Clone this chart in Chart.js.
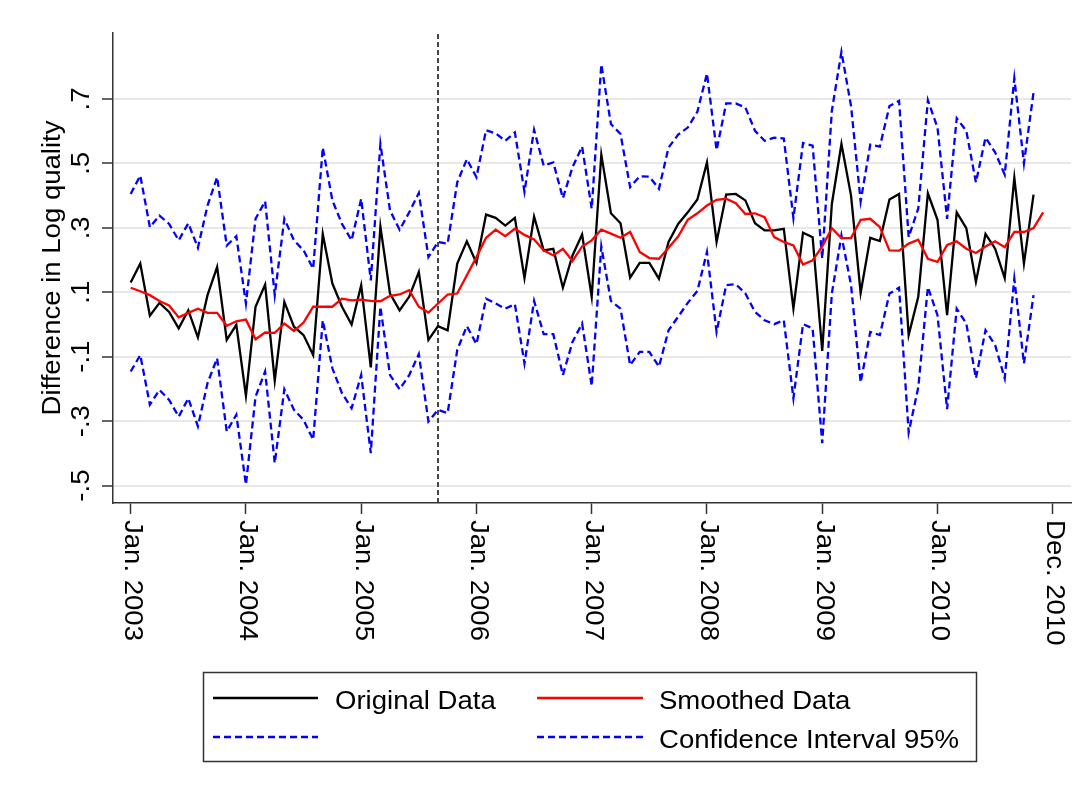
<!DOCTYPE html>
<html>
<head>
<meta charset="utf-8">
<title>Difference in Log quality</title>
<script src="https://cdn.jsdelivr.net/npm/chart.js@4.4.0/dist/chart.umd.min.js"></script>
<style>
body { margin: 0; background: #fff; }
canvas { display: block; }
</style>
</head>
<body>
<canvas id="chart" width="1086" height="794"></canvas>
<script>
const FONT = '"Liberation Sans", Arial, Helvetica, sans-serif';
const FONT_SIZE = 25.5;
const STRETCH = 1.08; // stata text is a bit wider than arial

// x is the month number counted from Jan. 2003
const tickMonths = [0, 12, 24, 36, 48, 60, 72, 84, 96];
const tickLabels = ["Jan. 2003", "Jan. 2004", "Jan. 2005", "Jan. 2006", "Jan. 2007",
                    "Jan. 2008", "Jan. 2009", "Jan. 2010", "Dec. 2010"];
const yTicks = [-0.5, -0.3, -0.1, 0.1, 0.3, 0.5, 0.7];
const yTickLabels = ["-.5", "-.3", "-.1", ".1", ".3", ".5", ".7"];
const yTitle = "Difference in Log quality";
const breakMonth = 32; // Sep. 2005

const originalData = [
    0.130, 0.189, 0.027, 0.067, 0.039, -0.012, 0.044, -0.040, 0.091, 0.178, -0.048, -0.001,
    -0.221, 0.055, 0.124, -0.174, 0.070, -0.007, -0.033, -0.095, 0.281, 0.127, 0.055, 0.000,
    0.122, -0.133, 0.304, 0.096, 0.044, 0.086, 0.163, -0.048, -0.005, -0.018, 0.189, 0.258,
    0.191, 0.341, 0.331, 0.307, 0.331, 0.144, 0.335, 0.230, 0.235, 0.114, 0.214, 0.279,
    0.086, 0.527, 0.345, 0.314, 0.145, 0.191, 0.191, 0.142, 0.256, 0.312, 0.348, 0.388,
    0.503, 0.256, 0.403, 0.405, 0.385, 0.314, 0.292, 0.292, 0.297, 0.049, 0.285, 0.271,
    -0.082, 0.374, 0.560, 0.400, 0.098, 0.269, 0.259, 0.388, 0.405, -0.033, 0.086, 0.407,
    0.325, 0.029, 0.348, 0.299, 0.132, 0.281, 0.235, 0.144, 0.455, 0.189, 0.403
];

const smoothedData = [
    0.114, 0.103, 0.091, 0.073, 0.059, 0.022, 0.036, 0.049, 0.036, 0.036, -0.004, 0.010,
    0.015, -0.046, -0.025, -0.026, 0.003, -0.020, 0.006, 0.055, 0.055, 0.055, 0.080, 0.075,
    0.077, 0.073, 0.072, 0.089, 0.093, 0.106, 0.055, 0.037, 0.065, 0.093, 0.096, 0.153,
    0.209, 0.269, 0.294, 0.274, 0.297, 0.278, 0.264, 0.230, 0.214, 0.235, 0.197, 0.242,
    0.261, 0.294, 0.282, 0.269, 0.287, 0.225, 0.206, 0.204, 0.238, 0.273, 0.325, 0.345,
    0.369, 0.387, 0.390, 0.376, 0.343, 0.345, 0.333, 0.271, 0.256, 0.245, 0.186, 0.199,
    0.242, 0.299, 0.268, 0.268, 0.325, 0.328, 0.302, 0.230, 0.229, 0.251, 0.263, 0.204,
    0.194, 0.247, 0.258, 0.235, 0.222, 0.242, 0.258, 0.240, 0.287, 0.287, 0.299, 0.348
];

const upperCI = [
    0.405, 0.462, 0.302, 0.338, 0.312, 0.261, 0.314, 0.238, 0.369, 0.457, 0.245, 0.274,
    0.065, 0.328, 0.382, 0.091, 0.328, 0.261, 0.230, 0.173, 0.549, 0.385, 0.312, 0.261,
    0.390, 0.137, 0.560, 0.354, 0.294, 0.348, 0.408, 0.209, 0.256, 0.251, 0.441, 0.513,
    0.457, 0.603, 0.593, 0.570, 0.596, 0.412, 0.604, 0.493, 0.503, 0.392, 0.488, 0.552,
    0.359, 0.807, 0.622, 0.591, 0.426, 0.460, 0.459, 0.421, 0.549, 0.589, 0.611, 0.660,
    0.779, 0.541, 0.686, 0.686, 0.673, 0.601, 0.570, 0.580, 0.577, 0.330, 0.563, 0.555,
    0.204, 0.663, 0.846, 0.678, 0.382, 0.558, 0.552, 0.678, 0.694, 0.271, 0.360, 0.696,
    0.611, 0.328, 0.640, 0.601, 0.441, 0.580, 0.534, 0.465, 0.764, 0.500, 0.720
];

const lowerCI = [
    -0.146, -0.095, -0.249, -0.203, -0.234, -0.286, -0.229, -0.316, -0.182, -0.105, -0.332, -0.280,
    -0.497, -0.224, -0.146, -0.430, -0.201, -0.265, -0.296, -0.358, 0.013, -0.136, -0.213, -0.260,
    -0.157, -0.399, 0.055, -0.157, -0.201, -0.157, -0.092, -0.301, -0.265, -0.275, -0.079, -0.005,
    -0.061, 0.080, 0.065, 0.049, 0.063, -0.121, 0.073, -0.030, -0.030, -0.157, -0.054, 0.003,
    -0.191, 0.242, 0.073, 0.049, -0.126, -0.085, -0.085, -0.131, -0.018, 0.024, 0.067, 0.104,
    0.225, -0.023, 0.122, 0.125, 0.096, 0.039, 0.013, 0.001, 0.013, -0.229, 0.001, -0.012,
    -0.368, 0.096, 0.276, 0.122, -0.180, -0.023, -0.033, 0.096, 0.114, -0.335, -0.195, 0.116,
    0.029, -0.263, 0.049, 0.003, -0.167, -0.018, -0.064, -0.167, 0.142, -0.121, 0.091
];

const yMin = -0.554;
const yMax = 0.9045;
const xMin = -1.84;
const xMax = 97.9;

function toPoints(values) {
    return values.map((v, i) => ({ x: i, y: v }));
}

function drawText(ctx, text, x, y, angle, align) {
    ctx.save();
    ctx.translate(x, y);
    ctx.rotate(angle);
    ctx.scale(STRETCH, 1);
    ctx.textAlign = align;
    ctx.textBaseline = 'alphabetic';
    ctx.fillText(text, 0, 0);
    ctx.restore();
}

function legendLine(ctx, x1, x2, y, color, dash) {
    ctx.save();
    ctx.strokeStyle = color;
    ctx.lineWidth = 2.3;
    ctx.setLineDash(dash);
    ctx.beginPath();
    ctx.moveTo(x1, y);
    ctx.lineTo(x2, y);
    ctx.stroke();
    ctx.restore();
}

// tick labels, axis title and legend are drawn by hand to get stata's layout
const stataText = {
    id: 'stataText',
    afterDraw(chart) {
        const ctx = chart.ctx;
        const xs = chart.scales.x;
        const ys = chart.scales.y;
        const area = chart.chartArea;
        ctx.save();
        ctx.fillStyle = '#000';
        ctx.font = FONT_SIZE + 'px ' + FONT;

        yTicks.forEach((v, i) => {
            drawText(ctx, yTickLabels[i], 89, ys.getPixelForValue(v), -Math.PI / 2, 'center');
        });
        drawText(ctx, yTitle, 59.5, (area.top + area.bottom) / 2, -Math.PI / 2, 'center');

        tickMonths.forEach((m, i) => {
            drawText(ctx, tickLabels[i], xs.getPixelForValue(m) - 5.5, 520, Math.PI / 2, 'left');
        });

        // legend box
        ctx.strokeStyle = '#333';
        ctx.lineWidth = 1.5;
        ctx.strokeRect(203.5, 672.5, 773, 89);
        legendLine(ctx, 213, 318, 698, '#000', []);
        legendLine(ctx, 537, 643, 698, '#ff0000', []);
        legendLine(ctx, 213, 318, 737, '#0000ff', [7, 4]);
        legendLine(ctx, 537, 643, 737, '#0000ff', [7, 4]);
        drawText(ctx, "Original Data", 335, 708.5, 0, 'left');
        drawText(ctx, "Smoothed Data", 659, 708.5, 0, 'left');
        drawText(ctx, "Confidence Interval 95%", 659, 748, 0, 'left');
        ctx.restore();
    }
};

const chart = new Chart('chart', {
    type: 'line',
    data: {
        datasets: [
            {
                label: "Smoothed Data",
                data: toPoints(smoothedData),
                borderColor: '#ff0000',
                borderWidth: 2.3,
                order: 0
            },
            {
                label: "Original Data",
                data: toPoints(originalData),
                borderColor: '#000000',
                borderWidth: 2.3,
                order: 1
            },
            {
                label: "",
                data: toPoints(upperCI),
                borderColor: '#0000ff',
                borderWidth: 2.3,
                borderDash: [7, 4],
                order: 2
            },
            {
                label: "Confidence Interval 95%",
                data: toPoints(lowerCI),
                borderColor: '#0000ff',
                borderWidth: 2.3,
                borderDash: [7, 4],
                order: 2
            },
            {
                label: "break",
                data: [{ x: breakMonth, y: yMin }, { x: breakMonth, y: yMax }],
                borderColor: '#333333',
                borderWidth: 1.8,
                borderDash: [5, 3],
                order: 3
            }
        ]
    },
    options: {
        responsive: false,
        animation: false,
        events: [],
        elements: {
            point: { radius: 0 },
            line: { tension: 0, fill: false }
        },
        layout: {
            padding: { left: 0, right: 15, top: 33, bottom: 0 }
        },
        plugins: {
            legend: { display: false },
            tooltip: { enabled: false },
            title: { display: false }
        },
        scales: {
            x: {
                type: 'linear',
                min: xMin,
                max: xMax,
                bounds: 'data',
                afterBuildTicks: (scale) => {
                    scale.ticks = tickMonths.map(m => ({ value: m }));
                },
                afterFit: (scale) => {
                    scale.height = 291;
                },
                ticks: { display: false },
                grid: {
                    drawOnChartArea: false,
                    drawTicks: true,
                    tickLength: 11,
                    tickColor: '#333',
                    tickWidth: 1.5
                },
                border: { display: true, color: '#333', width: 1.5 }
            },
            y: {
                type: 'linear',
                min: yMin,
                max: yMax,
                bounds: 'data',
                afterBuildTicks: (scale) => {
                    scale.ticks = yTicks.map(v => ({ value: v }));
                },
                afterFit: (scale) => {
                    scale.width = 113;
                },
                ticks: { display: false },
                grid: {
                    color: '#e8e8e8',
                    lineWidth: 2,
                    drawTicks: true,
                    tickLength: 11,
                    tickColor: '#333',
                    tickWidth: 1.5
                },
                border: { display: true, color: '#333', width: 1.5 }
            }
        }
    },
    plugins: [stataText]
});
</script>
</body>
</html>
